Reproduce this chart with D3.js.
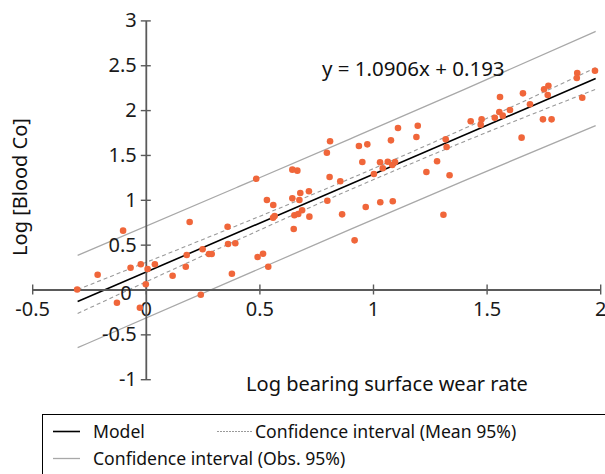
<!DOCTYPE html>
<html>
<head>
<meta charset="utf-8">
<script src="https://cdn.jsdelivr.net/npm/d3@7"></script>
<style>
  body { margin: 0; background: #fff; }
  svg { display: block; font-family: "Noto Sans", sans-serif; }
</style>
</head>
<body>
<svg id="canvas" width="605" height="474"></svg>
<script>
// data
var xTicks = [-0.5, 0, 0.5, 1, 1.5, 2];
var yTicks = [-1, -0.5, 0, 0.5, 1, 1.5, 2, 2.5, 3];
var xTickLabels = ["-0.5", "0", "0.5", "1", "1.5", "2"];
var yTickLabels = ["-1", "-0.5", "0", "0.5", "1", "1.5", "2", "2.5", "3"];

var wearRate = [-0.302, -0.212, -0.100, -0.127, -0.067, -0.022, 0.008, 0.040, 0.000, -0.026,
  0.118, 0.193, 0.180, 0.176, 0.250, 0.278, 0.290, 0.242, 0.360, 0.362, 0.394, 0.379,
  0.486, 0.533, 0.561, 0.560, 0.567, 0.492, 0.516, 0.539, 0.645, 0.667, 0.645, 0.680,
  0.676, 0.718, 0.654, 0.671, 0.688, 0.720, 0.651, 0.811, 0.797, 0.809, 0.856, 0.799,
  0.864, 0.919, 0.938, 0.975, 0.953, 1.004, 0.968, 1.032, 1.087, 1.031, 1.043, 1.065,
  1.085, 1.097, 1.079, 1.110, 1.197, 1.191, 1.235, 1.282, 1.337, 1.310, 1.320, 1.324,
  1.430, 1.474, 1.478, 1.536, 1.559, 1.556, 1.571, 1.603, 1.654, 1.660, 1.691, 1.753,
  1.772, 1.769, 1.748, 1.786, 1.899, 1.897, 1.921, 1.977];
var bloodCo = [0.000, 0.165, 0.656, -0.147, 0.243, 0.281, 0.229, 0.281, 0.058, -0.203,
  0.154, 0.753, 0.385, 0.254, 0.448, 0.396, 0.396, -0.058, 0.700, 0.507, 0.515, 0.176,
  1.235, 0.998, 0.942, 0.800, 0.820, 0.362, 0.399, 0.254, 1.336, 1.325, 1.016, 1.076,
  0.998, 1.095, 0.827, 0.842, 0.883, 0.812, 0.674, 1.652, 1.525, 1.254, 1.206, 0.990,
  0.838, 0.548, 1.600, 1.618, 1.421, 1.288, 0.920, 0.972, 0.983, 1.418, 1.351, 1.425,
  1.388, 1.421, 1.663, 1.800, 1.826, 1.700, 1.310, 1.429, 1.273, 0.834, 1.674, 1.589,
  1.875, 1.838, 1.897, 1.915, 2.146, 1.979, 1.938, 2.001, 1.693, 2.187, 2.065, 2.232,
  2.272, 2.168, 1.897, 1.897, 2.414, 2.358, 2.138, 2.439];

var modelX = [-0.3, 1.98];
var modelY = [-0.134, 2.352];

var bandX = [-0.3, 0.4, 0.9, 1.4, 1.98];
var meanUpper = [-0.001, 0.711, 1.237, 1.792, 2.472];
var meanLower = [-0.267, 0.547, 1.113, 1.648, 2.232];
var obsUpper = [0.381, 1.137, 1.680, 2.228, 2.877];
var obsLower = [-0.649, 0.121, 0.670, 1.212, 1.827];

var equationText = "y = 1.0906x + 0.193";
var legendLabels = ["Model", "Confidence interval (Mean 95%)", "Confidence interval (Obs. 95%)"];

// ************************************************************************** //
// scales

var svg = d3.select('#canvas');
var xScale = d3.scaleLinear().domain([-0.5, 2]).range([32.2, 600.2]);
var yScale = d3.scaleLinear().domain([-1, 3]).range([379.2, 20.4]);

var axisColor = '#5a5a5a';
var dotColor = '#f0663a';

// lines
function bandLine(ys) {
  return d3.line().x(function(d, i){ return xScale(bandX[i]); })
                  .y(function(d){ return yScale(d); })
                  .curve(d3.curveMonotoneX)(ys);
}

[obsUpper, obsLower].forEach(function(ys){
  svg.append('path').attr('d', bandLine(ys))
    .attr('fill', 'none').attr('stroke', '#a8a8a8').attr('stroke-width', 1.3);
});
[meanUpper, meanLower].forEach(function(ys){
  svg.append('path').attr('d', bandLine(ys))
    .attr('fill', 'none').attr('stroke', '#9a9a9a').attr('stroke-width', 1.1)
    .attr('stroke-dasharray', '4,3');
});
svg.append('line')
  .attr('x1', xScale(modelX[0])).attr('y1', yScale(modelY[0]))
  .attr('x2', xScale(modelX[1])).attr('y2', yScale(modelY[1]))
  .attr('stroke', '#000').attr('stroke-width', 1.6);

// axes crossing at origin
var xAxis = svg.append('g').attr('transform', 'translate(0,' + yScale(0) + ')')
  .call(d3.axisBottom(xScale).tickValues(xTicks).tickSize(5).tickSizeOuter(0)
        .tickFormat(function(d, i){ return xTickLabels[i]; }));
xAxis.selectAll('.tick line').attr('y1', -5).attr('y2', 5);

var yAxis = svg.append('g').attr('transform', 'translate(' + xScale(0) + ',0)')
  .call(d3.axisLeft(yScale).tickValues(yTicks).tickSize(5).tickSizeOuter(0)
        .tickFormat(function(d, i){ return yTickLabels[i]; }));
yAxis.selectAll('.tick line').attr('x1', -5).attr('x2', 5);

[xAxis, yAxis].forEach(function(ax){
  ax.select('.domain').attr('stroke', axisColor).attr('stroke-width', 1.8);
  ax.selectAll('.tick line').attr('stroke', axisColor).attr('stroke-width', 1.4);
  ax.selectAll('.tick text').attr('fill', '#1a1a1a')
    .style('font-size', '20px').style('font-family', '"Noto Sans", sans-serif');
});
xAxis.selectAll('.tick text').attr('y', 12);
yAxis.selectAll('.tick text').attr('x', -9);
yAxis.selectAll('.tick text').filter(function(d){ return d === 0; })
  .attr('x', -14).attr('dy', '0.5em');

// points
svg.append('g').selectAll('circle')
  .data(wearRate)
  .enter().append('circle')
  .attr('cx', function(d){ return xScale(d); })
  .attr('cy', function(d, i){ return yScale(bloodCo[i]); })
  .attr('r', 3.3)
  .attr('fill', dotColor);

// texts
svg.append('text').attr('x', 322).attr('y', 76)
  .style('font-size', '20.5px').attr('fill', '#111').text(equationText);

svg.append('text').attr('x', 387).attr('y', 391).attr('text-anchor', 'middle')
  .style('font-size', '20px').attr('fill', '#111').text('Log bearing surface wear rate');

svg.append('text').attr('transform', 'translate(27,187) rotate(-90)').attr('text-anchor', 'middle')
  .style('font-size', '20px').attr('fill', '#111').text('Log [Blood Co]');

// legend
var legend = svg.append('g');
legend.append('rect').attr('x', 42.5).attr('y', 414.5).attr('width', 600).attr('height', 100)
  .attr('fill', 'none').attr('stroke', '#000').attr('stroke-width', 1);

var legendItems = [
  { x: 53, y: 431.5, label: legendLabels[0], stroke: '#000', dash: null, w: 1.6 },
  { x: 217, y: 431.5, label: legendLabels[1], stroke: '#9a9a9a', dash: '2,1', w: 1 },
  { x: 53, y: 458.5, label: legendLabels[2], stroke: '#a8a8a8', dash: null, w: 1.3 }
];
legendItems.forEach(function(it){
  var len = it.dash ? 35 : 27;
  legend.append('line').attr('x1', it.x).attr('x2', it.x + len)
    .attr('y1', it.y).attr('y2', it.y)
    .attr('stroke', it.stroke).attr('stroke-width', it.w)
    .attr('stroke-dasharray', it.dash);
  legend.append('text').attr('x', it.x + len + (it.dash ? 3 : 13)).attr('y', it.y + 6.5)
    .style('font-size', '17.6px').attr('fill', '#111').text(it.label);
});
</script>
</body>
</html>
